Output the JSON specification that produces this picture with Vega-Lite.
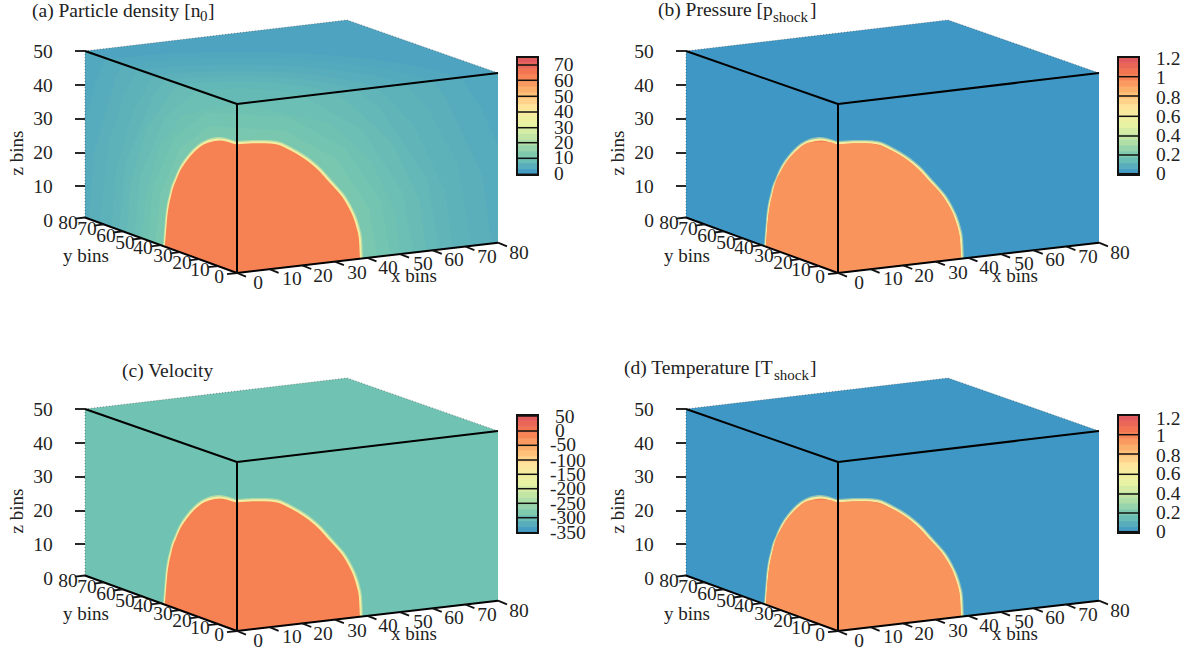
{"$schema":"https://vega.github.io/schema/vega-lite/v6.json","padding":0,"autosize":{"type":"pad"},"background":"white","config":{"view":{"stroke":null},"text":{"font":"Liberation Serif","color":"#222"}},"datasets":{"main":[
{"p":"a","s":"base","c":0.06,"x":85,"y":50,"y2":216.5},{"p":"a","s":"base","c":0.06,"x":237,"y":103,"y2":272},{"p":"a","s":"base","c":0.06,"x":498,"y":72,"y2":241.7},
{"p":"a","s":"top","c":0.045,"x":85,"y":50,"y2":50},{"p":"a","s":"top","c":0.045,"x":237,"y":32,"y2":103},{"p":"a","s":"top","c":0.045,"x":347,"y":19,"y2":89.9},{"p":"a","s":"top","c":0.045,"x":498,"y":72,"y2":72},
{"p":"a","s":"t85","c":0.055,"x":106.5,"y":57.7,"y2":57.7},{"p":"a","s":"t85","c":0.055,"x":168.9,"y":52.2,"y2":79.4},{"p":"a","s":"t85","c":0.055,"x":237,"y":50.4,"y2":103},{"p":"a","s":"t85","c":0.055,"x":303,"y":52,"y2":95.1},{"p":"a","s":"t85","c":0.055,"x":365.7,"y":57.1,"y2":87.6},{"p":"a","s":"t85","c":0.055,"x":419.5,"y":65.4,"y2":81.2},{"p":"a","s":"t85","c":0.055,"x":461,"y":76.2,"y2":76.2},
{"p":"a","s":"t78","c":0.065,"x":123.2,"y":63.5,"y2":63.5},{"p":"a","s":"t78","c":0.065,"x":177.6,"y":58.7,"y2":82.4},{"p":"a","s":"t78","c":0.065,"x":237,"y":57.1,"y2":103},{"p":"a","s":"t78","c":0.065,"x":294.6,"y":58.5,"y2":96.1},{"p":"a","s":"t78","c":0.065,"x":349.2,"y":63,"y2":89.6},{"p":"a","s":"t78","c":0.065,"x":396.2,"y":70.2,"y2":84},{"p":"a","s":"t78","c":0.065,"x":432.3,"y":79.6,"y2":79.6},
{"p":"a","s":"t72","c":0.075,"x":138.6,"y":68.8,"y2":68.8},{"p":"a","s":"t72","c":0.075,"x":185.7,"y":64.7,"y2":85.2},{"p":"a","s":"t72","c":0.075,"x":237,"y":63.3,"y2":103},{"p":"a","s":"t72","c":0.075,"x":286.8,"y":64.5,"y2":97},{"p":"a","s":"t72","c":0.075,"x":334,"y":68.4,"y2":91.4},{"p":"a","s":"t72","c":0.075,"x":374.6,"y":74.6,"y2":86.6},{"p":"a","s":"t72","c":0.075,"x":405.9,"y":82.8,"y2":82.8},
{"p":"a","s":"t66","c":0.085,"x":155.1,"y":74.6,"y2":74.6},{"p":"a","s":"t66","c":0.085,"x":194.3,"y":71.1,"y2":88.2},{"p":"a","s":"t66","c":0.085,"x":237,"y":70,"y2":103},{"p":"a","s":"t66","c":0.085,"x":278.4,"y":71,"y2":98},{"p":"a","s":"t66","c":0.085,"x":317.7,"y":74.2,"y2":93.3},{"p":"a","s":"t66","c":0.085,"x":351.5,"y":79.4,"y2":89.3},{"p":"a","s":"t66","c":0.085,"x":377.5,"y":86.2,"y2":86.2},
{"p":"a","s":"t62","c":0.095,"x":167.3,"y":78.8,"y2":78.8},{"p":"a","s":"t62","c":0.095,"x":200.6,"y":75.9,"y2":90.4},{"p":"a","s":"t62","c":0.095,"x":237,"y":74.9,"y2":103},{"p":"a","s":"t62","c":0.095,"x":272.3,"y":75.7,"y2":98.8},{"p":"a","s":"t62","c":0.095,"x":305.7,"y":78.5,"y2":94.8},{"p":"a","s":"t62","c":0.095,"x":334.5,"y":82.9,"y2":91.3},{"p":"a","s":"t62","c":0.095,"x":356.6,"y":88.7,"y2":88.7},
{"p":"a","s":"t58","c":0.105,"x":181.1,"y":83.6,"y2":83.6},{"p":"a","s":"t58","c":0.105,"x":207.9,"y":81.3,"y2":92.9},{"p":"a","s":"t58","c":0.105,"x":237,"y":80.5,"y2":103},{"p":"a","s":"t58","c":0.105,"x":265.3,"y":81.2,"y2":99.6},{"p":"a","s":"t58","c":0.105,"x":292.1,"y":83.4,"y2":96.4},{"p":"a","s":"t58","c":0.105,"x":315.1,"y":86.9,"y2":93.7},{"p":"a","s":"t58","c":0.105,"x":332.8,"y":91.5,"y2":91.5},
{"p":"a","s":"t54","c":0.115,"x":198.2,"y":89.5,"y2":89.5},{"p":"a","s":"t54","c":0.115,"x":216.8,"y":87.9,"y2":96},{"p":"a","s":"t54","c":0.115,"x":237,"y":87.4,"y2":103},{"p":"a","s":"t54","c":0.115,"x":256.6,"y":87.8,"y2":100.7},{"p":"a","s":"t54","c":0.115,"x":275.2,"y":89.4,"y2":98.4},{"p":"a","s":"t54","c":0.115,"x":291.2,"y":91.8,"y2":96.5},{"p":"a","s":"t54","c":0.115,"x":303.5,"y":95,"y2":95},
{"p":"a","s":"r85","c":0.07,"x":85,"y":119.5,"y2":216.5},{"p":"a","s":"r85","c":0.07,"x":94.5,"y":84.8,"y2":220},{"p":"a","s":"r85","c":0.07,"x":106.5,"y":55.3,"y2":224.3},{"p":"a","s":"r85","c":0.07,"x":237,"y":103,"y2":272},{"p":"a","s":"r85","c":0.07,"x":461.1,"y":77,"y2":246},{"p":"a","s":"r85","c":0.07,"x":481.7,"y":108.4,"y2":243.6},{"p":"a","s":"r85","c":0.07,"x":498,"y":144.7,"y2":241.7},
{"p":"a","s":"r78","c":0.08,"x":88.8,"y":217.9,"y2":217.9},{"p":"a","s":"r78","c":0.08,"x":93.9,"y":151.5,"y2":219.7},{"p":"a","s":"r78","c":0.08,"x":115.6,"y":76.4,"y2":227.7},{"p":"a","s":"r78","c":0.08,"x":123.2,"y":61.4,"y2":230.4},{"p":"a","s":"r78","c":0.08,"x":237,"y":103,"y2":272},{"p":"a","s":"r78","c":0.08,"x":432.4,"y":80.3,"y2":249.3},{"p":"a","s":"r78","c":0.08,"x":445.4,"y":96.5,"y2":247.8},{"p":"a","s":"r78","c":0.08,"x":482.8,"y":175.2,"y2":243.5},{"p":"a","s":"r78","c":0.08,"x":491.5,"y":242.4,"y2":242.4},
{"p":"a","s":"r72","c":0.09,"x":100.2,"y":222,"y2":222},{"p":"a","s":"r72","c":0.09,"x":108.4,"y":141.8,"y2":225.1},{"p":"a","s":"r72","c":0.09,"x":124.9,"y":91.5,"y2":231.1},{"p":"a","s":"r72","c":0.09,"x":138.6,"y":67,"y2":236},{"p":"a","s":"r72","c":0.09,"x":237,"y":103,"y2":272},{"p":"a","s":"r72","c":0.09,"x":406,"y":83.4,"y2":252.4},{"p":"a","s":"r72","c":0.09,"x":429.5,"y":110,"y2":249.6},{"p":"a","s":"r72","c":0.09,"x":457.8,"y":163.1,"y2":246.4},{"p":"a","s":"r72","c":0.09,"x":471.9,"y":244.7,"y2":244.7},
{"p":"a","s":"r66","c":0.1,"x":111.6,"y":226.2,"y2":226.2},{"p":"a","s":"r66","c":0.1,"x":115.9,"y":170,"y2":227.8},{"p":"a","s":"r66","c":0.1,"x":134.3,"y":106.5,"y2":234.5},{"p":"a","s":"r66","c":0.1,"x":155.1,"y":73.1,"y2":242.1},{"p":"a","s":"r66","c":0.1,"x":237,"y":103,"y2":272},{"p":"a","s":"r66","c":0.1,"x":377.6,"y":86.7,"y2":255.7},{"p":"a","s":"r66","c":0.1,"x":413.4,"y":123.5,"y2":251.5},{"p":"a","s":"r66","c":0.1,"x":445,"y":190.1,"y2":247.8},{"p":"a","s":"r66","c":0.1,"x":452.3,"y":247,"y2":247},
{"p":"a","s":"r62","c":0.11,"x":119.2,"y":229,"y2":229},{"p":"a","s":"r62","c":0.11,"x":126.3,"y":159.9,"y2":231.6},{"p":"a","s":"r62","c":0.11,"x":153.7,"y":93.4,"y2":241.6},{"p":"a","s":"r62","c":0.11,"x":167.3,"y":77.5,"y2":246.5},{"p":"a","s":"r62","c":0.11,"x":237,"y":103,"y2":272},{"p":"a","s":"r62","c":0.11,"x":356.7,"y":89.1,"y2":258.1},{"p":"a","s":"r62","c":0.11,"x":380,"y":107.2,"y2":255.4},{"p":"a","s":"r62","c":0.11,"x":427.2,"y":178.3,"y2":249.9},{"p":"a","s":"r62","c":0.11,"x":439.3,"y":248.5,"y2":248.5},
{"p":"a","s":"r58","c":0.12,"x":126.8,"y":231.7,"y2":231.7},{"p":"a","s":"r58","c":0.12,"x":130.6,"y":182.4,"y2":233.1},{"p":"a","s":"r58","c":0.12,"x":146.8,"y":126.5,"y2":239.1},{"p":"a","s":"r58","c":0.12,"x":173.7,"y":88.4,"y2":248.9},{"p":"a","s":"r58","c":0.12,"x":181.1,"y":82.6,"y2":251.6},{"p":"a","s":"r58","c":0.12,"x":237,"y":103,"y2":272},{"p":"a","s":"r58","c":0.12,"x":332.9,"y":91.9,"y2":260.9},{"p":"a","s":"r58","c":0.12,"x":345.6,"y":98.8,"y2":259.4},{"p":"a","s":"r58","c":0.12,"x":392,"y":141.5,"y2":254},{"p":"a","s":"r58","c":0.12,"x":419.8,"y":200,"y2":250.8},{"p":"a","s":"r58","c":0.12,"x":426.2,"y":250,"y2":250},
{"p":"a","s":"r54","c":0.13,"x":134.4,"y":234.5,"y2":234.5},{"p":"a","s":"r54","c":0.13,"x":140.6,"y":174.4,"y2":236.8},{"p":"a","s":"r54","c":0.13,"x":164.5,"y":116.4,"y2":245.5},{"p":"a","s":"r54","c":0.13,"x":198.2,"y":88.8,"y2":257.8},{"p":"a","s":"r54","c":0.13,"x":237,"y":103,"y2":272},{"p":"a","s":"r54","c":0.13,"x":303.6,"y":95.3,"y2":264.3},{"p":"a","s":"r54","c":0.13,"x":361.6,"y":128.5,"y2":257.5},{"p":"a","s":"r54","c":0.13,"x":402.6,"y":190.4,"y2":252.8},{"p":"a","s":"r54","c":0.13,"x":413.2,"y":251.5,"y2":251.5},
{"p":"a","s":"r50","c":0.14,"x":142,"y":237.3,"y2":237.3},{"p":"a","s":"r50","c":0.14,"x":145.3,"y":194.8,"y2":238.5},{"p":"a","s":"r50","c":0.14,"x":159.2,"y":146.6,"y2":243.6},{"p":"a","s":"r50","c":0.14,"x":182.5,"y":113.7,"y2":252.1},{"p":"a","s":"r50","c":0.14,"x":237,"y":103,"y2":272},{"p":"a","s":"r50","c":0.14,"x":330.7,"y":122.7,"y2":261.1},{"p":"a","s":"r50","c":0.14,"x":370.6,"y":159.5,"y2":256.5},{"p":"a","s":"r50","c":0.14,"x":394.6,"y":210,"y2":253.7},{"p":"a","s":"r50","c":0.14,"x":400.1,"y":253.1,"y2":253.1},
{"p":"a","s":"r47","c":0.15,"x":147.7,"y":239.4,"y2":239.4},{"p":"a","s":"r47","c":0.15,"x":153,"y":186.9,"y2":241.3},{"p":"a","s":"r47","c":0.15,"x":173.9,"y":136.8,"y2":249},{"p":"a","s":"r47","c":0.15,"x":206.4,"y":111.4,"y2":260.8},{"p":"a","s":"r47","c":0.15,"x":237,"y":113.1,"y2":272},{"p":"a","s":"r47","c":0.15,"x":289.5,"y":116.5,"y2":265.9},{"p":"a","s":"r47","c":0.15,"x":345.3,"y":147.2,"y2":259.4},{"p":"a","s":"r47","c":0.15,"x":381.2,"y":200.8,"y2":255.2},{"p":"a","s":"r47","c":0.15,"x":390.3,"y":254.2,"y2":254.2},
{"p":"a","s":"r43","c":0.165,"x":155.3,"y":242.2,"y2":242.2},{"p":"a","s":"r43","c":0.165,"x":160.2,"y":194.3,"y2":244},{"p":"a","s":"r43","c":0.165,"x":179.3,"y":148.1,"y2":250.9},{"p":"a","s":"r43","c":0.165,"x":209,"y":125.2,"y2":261.8},{"p":"a","s":"r43","c":0.165,"x":237,"y":126.7,"y2":272},{"p":"a","s":"r43","c":0.165,"x":285,"y":129.8,"y2":266.4},{"p":"a","s":"r43","c":0.165,"x":336.2,"y":157.7,"y2":260.5},{"p":"a","s":"r43","c":0.165,"x":368.9,"y":207,"y2":256.7},{"p":"a","s":"r43","c":0.165,"x":377.3,"y":255.7,"y2":255.7},
{"p":"b","s":"base","c":0.006,"x":85,"y":50,"y2":216.5},{"p":"b","s":"base","c":0.006,"x":237,"y":103,"y2":272},{"p":"b","s":"base","c":0.006,"x":498,"y":72,"y2":241.7},
{"p":"b","s":"top","c":0.006,"x":85,"y":50,"y2":50},{"p":"b","s":"top","c":0.006,"x":237,"y":32,"y2":103},{"p":"b","s":"top","c":0.006,"x":347,"y":19,"y2":89.9},{"p":"b","s":"top","c":0.006,"x":498,"y":72,"y2":72},
{"p":"c","s":"base","c":0.143,"x":85,"y":50,"y2":216.5},{"p":"c","s":"base","c":0.143,"x":237,"y":103,"y2":272},{"p":"c","s":"base","c":0.143,"x":498,"y":72,"y2":241.7},
{"p":"c","s":"top","c":0.143,"x":85,"y":50,"y2":50},{"p":"c","s":"top","c":0.143,"x":237,"y":32,"y2":103},{"p":"c","s":"top","c":0.143,"x":347,"y":19,"y2":89.9},{"p":"c","s":"top","c":0.143,"x":498,"y":72,"y2":72},
{"p":"d","s":"base","c":0.006,"x":85,"y":50,"y2":216.5},{"p":"d","s":"base","c":0.006,"x":237,"y":103,"y2":272},{"p":"d","s":"base","c":0.006,"x":498,"y":72,"y2":241.7},
{"p":"d","s":"top","c":0.006,"x":85,"y":50,"y2":50},{"p":"d","s":"top","c":0.006,"x":237,"y":32,"y2":103},{"p":"d","s":"top","c":0.006,"x":347,"y":19,"y2":89.9},{"p":"d","s":"top","c":0.006,"x":498,"y":72,"y2":72},
{"p":"b","k":"tint","c":0.79,"x":165,"y":245.5,"y2":245.5},{"p":"b","k":"tint","c":0.79,"x":165.8,"y":233,"y2":245.8},{"p":"b","k":"tint","c":0.79,"x":171.7,"y":192.1,"y2":248},{"p":"b","k":"tint","c":0.79,"x":181.4,"y":167.6,"y2":251.5},{"p":"b","k":"tint","c":0.79,"x":194.1,"y":151.1,"y2":256.2},{"p":"b","k":"tint","c":0.79,"x":208.7,"y":141.4,"y2":261.6},{"p":"b","k":"tint","c":0.79,"x":228.2,"y":140.9,"y2":268.8},{"p":"b","k":"tint","c":0.79,"x":237,"y":143.3,"y2":272},{"p":"b","k":"tint","c":0.79,"x":264.3,"y":142.3,"y2":268.9},{"p":"b","k":"tint","c":0.79,"x":291.6,"y":150.1,"y2":265.7},{"p":"b","k":"tint","c":0.79,"x":311.1,"y":162.8,"y2":263.5},{"p":"b","k":"tint","c":0.79,"x":327.7,"y":179.4,"y2":261.6},{"p":"b","k":"tint","c":0.79,"x":344.3,"y":198.9,"y2":259.7},{"p":"b","k":"tint","c":0.79,"x":354,"y":218.3,"y2":258.5},{"p":"b","k":"tint","c":0.79,"x":358.9,"y":237.9,"y2":258},{"p":"b","k":"tint","c":0.79,"x":359.9,"y":257.9,"y2":257.9},
{"p":"d","k":"tint","c":0.79,"x":165,"y":245.5,"y2":245.5},{"p":"d","k":"tint","c":0.79,"x":165.8,"y":233,"y2":245.8},{"p":"d","k":"tint","c":0.79,"x":171.7,"y":192.1,"y2":248},{"p":"d","k":"tint","c":0.79,"x":181.4,"y":167.6,"y2":251.5},{"p":"d","k":"tint","c":0.79,"x":194.1,"y":151.1,"y2":256.2},{"p":"d","k":"tint","c":0.79,"x":208.7,"y":141.4,"y2":261.6},{"p":"d","k":"tint","c":0.79,"x":228.2,"y":140.9,"y2":268.8},{"p":"d","k":"tint","c":0.79,"x":237,"y":143.3,"y2":272},{"p":"d","k":"tint","c":0.79,"x":264.3,"y":142.3,"y2":268.9},{"p":"d","k":"tint","c":0.79,"x":291.6,"y":150.1,"y2":265.7},{"p":"d","k":"tint","c":0.79,"x":311.1,"y":162.8,"y2":263.5},{"p":"d","k":"tint","c":0.79,"x":327.7,"y":179.4,"y2":261.6},{"p":"d","k":"tint","c":0.79,"x":344.3,"y":198.9,"y2":259.7},{"p":"d","k":"tint","c":0.79,"x":354,"y":218.3,"y2":258.5},{"p":"d","k":"tint","c":0.79,"x":358.9,"y":237.9,"y2":258},{"p":"d","k":"tint","c":0.79,"x":359.9,"y":257.9,"y2":257.9},
{"p":"a","k":"cb","t":"70","x":554,"y":64,"ly":64},{"p":"a","k":"cb","t":"60","x":554,"y":80,"ly":79.3},{"p":"a","k":"cb","t":"50","x":554,"y":96,"ly":95.3},{"p":"a","k":"cb","t":"40","x":554,"y":111,"ly":111},{"p":"a","k":"cb","t":"30","x":554,"y":127,"ly":126.7},{"p":"a","k":"cb","t":"20","x":554,"y":142,"ly":141.7},{"p":"a","k":"cb","t":"10","x":554,"y":157,"ly":157.3},{"p":"a","k":"cb","t":"0","x":554,"y":173,"ly":173.3},
{"p":"b","k":"cb","t":"1.2","x":555,"y":58,"ly":56},{"p":"b","k":"cb","t":"1","x":555,"y":77,"ly":75.7},{"p":"b","k":"cb","t":"0.8","x":555,"y":97,"ly":95},{"p":"b","k":"cb","t":"0.6","x":555,"y":116,"ly":115.3},{"p":"b","k":"cb","t":"0.4","x":555,"y":135,"ly":135},{"p":"b","k":"cb","t":"0.2","x":555,"y":154,"ly":154},{"p":"b","k":"cb","t":"0","x":555,"y":173,"ly":172.7},
{"p":"c","k":"cb","t":"50","x":555,"y":58,"ly":57},{"p":"c","k":"cb","t":"0","x":555,"y":72,"ly":72},{"p":"c","k":"cb","t":"-50","x":550,"y":86,"ly":86.3},{"p":"c","k":"cb","t":"-100","x":550,"y":102,"ly":101},{"p":"c","k":"cb","t":"-150","x":550,"y":116,"ly":115.3},{"p":"c","k":"cb","t":"-200","x":550,"y":130,"ly":129.7},{"p":"c","k":"cb","t":"-250","x":550,"y":145,"ly":144.3},{"p":"c","k":"cb","t":"-300","x":550,"y":159,"ly":158.7},{"p":"c","k":"cb","t":"-350","x":550,"y":174,"ly":173.7},
{"p":"d","k":"cb","t":"1.2","x":555,"y":60,"ly":56},{"p":"d","k":"cb","t":"1","x":555,"y":77,"ly":75.7},{"p":"d","k":"cb","t":"0.8","x":555,"y":97,"ly":95},{"p":"d","k":"cb","t":"0.6","x":555,"y":115,"ly":115.3},{"p":"d","k":"cb","t":"0.4","x":555,"y":135,"ly":135},{"p":"d","k":"cb","t":"0.2","x":555,"y":154,"ly":154},{"p":"d","k":"cb","t":"0","x":555,"y":173,"ly":172.7},
{"p":"a","k":"t","t":"(a) Particle density [n","x":32,"y":16},{"p":"a","k":"t","t":"]","x":208,"y":16},{"p":"a","k":"u","t":"0","x":200,"y":20},
{"p":"b","k":"t","t":"(b) Pressure [p","x":57,"y":15},{"p":"b","k":"t","t":"]","x":209,"y":15},{"p":"b","k":"u","t":"shock","x":172,"y":21},
{"p":"c","k":"t","t":"(c) Velocity","x":122,"y":18},
{"p":"d","k":"t","t":"(d) Temperature [T","x":23,"y":15},{"p":"d","k":"t","t":"]","x":209,"y":15},{"p":"d","k":"u","t":"shock","x":173,"y":21}
],"dome":[
{"r":"o","c":0.45,"x":163,"y":245,"y2":244.8},{"r":"o","c":0.45,"x":164,"y":232,"y2":245.1},{"r":"o","c":0.45,"x":165,"y":220,"y2":245.5},{"r":"o","c":0.45,"x":170,"y":190,"y2":247.3},{"r":"o","c":0.45,"x":175,"y":176,"y2":249.2},{"r":"o","c":0.45,"x":180,"y":165,"y2":251},{"r":"o","c":0.45,"x":186,"y":156,"y2":253.2},{"r":"o","c":0.45,"x":193,"y":148,"y2":255.8},{"r":"o","c":0.45,"x":200,"y":142,"y2":258.4},{"r":"o","c":0.45,"x":208,"y":138,"y2":261.3},{"r":"o","c":0.45,"x":220,"y":136,"y2":265.7},{"r":"o","c":0.45,"x":228,"y":137.5,"y2":268.7},{"r":"o","c":0.45,"x":237,"y":140,"y2":272},{"r":"o","c":0.45,"x":253,"y":139,"y2":270.2},{"r":"o","c":0.45,"x":265,"y":139,"y2":268.8},{"r":"o","c":0.45,"x":277,"y":140,"y2":267.4},{"r":"o","c":0.45,"x":293,"y":147,"y2":265.6},{"r":"o","c":0.45,"x":305,"y":154,"y2":264.2},{"r":"o","c":0.45,"x":313,"y":160,"y2":263.3},{"r":"o","c":0.45,"x":322,"y":168,"y2":262.2},{"r":"o","c":0.45,"x":330,"y":177,"y2":261.3},{"r":"o","c":0.45,"x":339,"y":187,"y2":260.3},{"r":"o","c":0.45,"x":347,"y":197,"y2":259.4},{"r":"o","c":0.45,"x":352,"y":206,"y2":258.8},{"r":"o","c":0.45,"x":357,"y":217,"y2":258.2},{"r":"o","c":0.45,"x":360,"y":227,"y2":257.9},{"r":"o","c":0.45,"x":362,"y":237,"y2":257.6},{"r":"o","c":0.45,"x":363,"y":257.5,"y2":257.5},
{"r":"m","c":0.5,"x":163.7,"y":245,"y2":245},{"r":"m","c":0.5,"x":164.7,"y":232.4,"y2":245.4},{"r":"m","c":0.5,"x":165.7,"y":220.6,"y2":245.8},{"r":"m","c":0.5,"x":170.7,"y":190.9,"y2":247.6},{"r":"m","c":0.5,"x":175.6,"y":176.9,"y2":249.4},{"r":"m","c":0.5,"x":180.6,"y":166.1,"y2":251.2},{"r":"m","c":0.5,"x":186.5,"y":157.2,"y2":253.4},{"r":"m","c":0.5,"x":193.4,"y":149.3,"y2":256},{"r":"m","c":0.5,"x":200.4,"y":143.3,"y2":258.5},{"r":"m","c":0.5,"x":208.3,"y":139.3,"y2":261.4},{"r":"m","c":0.5,"x":220.2,"y":137.4,"y2":265.8},{"r":"m","c":0.5,"x":228.1,"y":138.8,"y2":268.7},{"r":"m","c":0.5,"x":237,"y":141.3,"y2":272},{"r":"m","c":0.5,"x":252.8,"y":140.3,"y2":270.2},{"r":"m","c":0.5,"x":264.7,"y":140.3,"y2":268.8},{"r":"m","c":0.5,"x":276.6,"y":141.3,"y2":267.4},{"r":"m","c":0.5,"x":292.4,"y":148.2,"y2":265.6},{"r":"m","c":0.5,"x":304.3,"y":155.2,"y2":264.3},{"r":"m","c":0.5,"x":312.2,"y":161.1,"y2":263.4},{"r":"m","c":0.5,"x":321.2,"y":169,"y2":262.3},{"r":"m","c":0.5,"x":329.1,"y":177.9,"y2":261.4},{"r":"m","c":0.5,"x":338,"y":187.8,"y2":260.4},{"r":"m","c":0.5,"x":345.9,"y":197.7,"y2":259.5},{"r":"m","c":0.5,"x":350.9,"y":206.6,"y2":258.9},{"r":"m","c":0.5,"x":355.8,"y":217.5,"y2":258.3},{"r":"m","c":0.5,"x":358.8,"y":227.4,"y2":258},{"r":"m","c":0.5,"x":360.8,"y":237.4,"y2":257.8},{"r":"m","c":0.5,"x":361.7,"y":257.7,"y2":257.7},
{"r":"z","c":0.835,"x":164.8,"y":245.4,"y2":245.4},{"r":"z","c":0.835,"x":165.8,"y":233,"y2":245.8},{"r":"z","c":0.835,"x":166.8,"y":221.3,"y2":246.2},{"r":"z","c":0.835,"x":171.7,"y":192.1,"y2":248},{"r":"z","c":0.835,"x":176.5,"y":178.3,"y2":249.7},{"r":"z","c":0.835,"x":181.4,"y":167.6,"y2":251.5},{"r":"z","c":0.835,"x":187.3,"y":158.9,"y2":253.7},{"r":"z","c":0.835,"x":194.1,"y":151.1,"y2":256.2},{"r":"z","c":0.835,"x":200.9,"y":145.2,"y2":258.7},{"r":"z","c":0.835,"x":208.7,"y":141.4,"y2":261.6},{"r":"z","c":0.835,"x":220.4,"y":139.4,"y2":265.9},{"r":"z","c":0.835,"x":228.2,"y":140.9,"y2":268.8},{"r":"z","c":0.835,"x":237,"y":143.3,"y2":272},{"r":"z","c":0.835,"x":252.6,"y":142.3,"y2":270.2},{"r":"z","c":0.835,"x":264.3,"y":142.3,"y2":268.9},{"r":"z","c":0.835,"x":276,"y":143.3,"y2":267.5},{"r":"z","c":0.835,"x":291.6,"y":150.1,"y2":265.7},{"r":"z","c":0.835,"x":303.3,"y":157,"y2":264.4},{"r":"z","c":0.835,"x":311.1,"y":162.8,"y2":263.5},{"r":"z","c":0.835,"x":319.9,"y":170.7,"y2":262.5},{"r":"z","c":0.835,"x":327.7,"y":179.4,"y2":261.6},{"r":"z","c":0.835,"x":336.5,"y":189.1,"y2":260.6},{"r":"z","c":0.835,"x":344.3,"y":198.9,"y2":259.7},{"r":"z","c":0.835,"x":349.1,"y":207.6,"y2":259.1},{"r":"z","c":0.835,"x":354,"y":218.3,"y2":258.5},{"r":"z","c":0.835,"x":356.9,"y":228.1,"y2":258.2},{"r":"z","c":0.835,"x":358.9,"y":237.9,"y2":258},{"r":"z","c":0.835,"x":359.9,"y":257.9,"y2":257.9}
],"thin":[{"x":85,"y":50,"x2":85,"y2":216.5},{"x":85,"y":50,"x2":347,"y2":19},{"x":347,"y":19,"x2":498,"y2":72}],
"frame":[{"x":85,"y":50,"x2":237,"y2":103},{"x":237,"y":103,"x2":498,"y2":72},{"x":237,"y":103,"x2":237,"y2":272},{"x":237,"y":272,"x2":85,"y2":216.5},{"x":237,"y":272,"x2":498,"y2":241.7}],
"ticks":[{"x":75,"y":50,"x2":85,"y2":50},{"x":75,"y":84,"x2":85,"y2":84},{"x":75,"y":118,"x2":85,"y2":118},{"x":75,"y":152,"x2":85,"y2":152},{"x":75,"y":185,"x2":85,"y2":185},
{"x":237,"y":272,"x2":227,"y2":273.2},{"x":218,"y":265.1,"x2":208,"y2":266.2},{"x":199,"y":258.1,"x2":189,"y2":259.3},{"x":180,"y":251.2,"x2":170,"y2":252.3},{"x":161,"y":244.2,"x2":151,"y2":245.4},{"x":142,"y":237.3,"x2":132,"y2":238.5},{"x":123,"y":230.4,"x2":113,"y2":231.5},{"x":104,"y":223.4,"x2":94,"y2":224.6},{"x":85,"y":216.5,"x2":75,"y2":217.7},
{"x":237,"y":272,"x2":246,"y2":275.6},{"x":269.6,"y":268.2,"x2":278.6,"y2":271.8},{"x":302.3,"y":264.4,"x2":311.3,"y2":268},{"x":334.9,"y":260.6,"x2":343.9,"y2":264.2},{"x":367.5,"y":256.8,"x2":376.5,"y2":260.4},{"x":400.1,"y":253.1,"x2":409.1,"y2":256.7},{"x":432.8,"y":249.3,"x2":441.8,"y2":252.9},{"x":465.4,"y":245.5,"x2":474.4,"y2":249.1},{"x":498,"y":241.7,"x2":507,"y2":245.3}],
"labels":[{"t":"50","x":43,"y":51},{"t":"40","x":43,"y":85},{"t":"30","x":43,"y":118},{"t":"20","x":43,"y":152},{"t":"10","x":43,"y":186},{"t":"0","x":48,"y":220},
{"t":"0","x":219,"y":276},{"t":"10","x":200,"y":269},{"t":"20","x":182,"y":262},{"t":"30","x":163,"y":255},{"t":"40","x":143,"y":247},{"t":"50","x":125,"y":242},{"t":"60","x":106,"y":235},{"t":"70","x":87,"y":228},{"t":"80","x":68,"y":222},
{"t":"0","x":258,"y":282},{"t":"10","x":292,"y":278},{"t":"20","x":323,"y":275},{"t":"30","x":357,"y":272},{"t":"40","x":388,"y":267},{"t":"50","x":423,"y":263},{"t":"60","x":454,"y":259},{"t":"70","x":487,"y":256},{"t":"80","x":519,"y":252}],
"titles":[{"t":"y bins","x":86,"y":255},{"t":"x bins","x":414,"y":275}],
"ztitle":[{"t":"z bins","x":17,"y":152}],
"bar":[{"x":517,"x2":538,"y":167.6,"y2":174,"c":0.025},{"x":517,"x2":538,"y":161.7,"y2":168.1,"c":0.075},{"x":517,"x2":538,"y":155.8,"y2":162.2,"c":0.125},{"x":517,"x2":538,"y":149.9,"y2":156.3,"c":0.175},{"x":517,"x2":538,"y":144,"y2":150.4,"c":0.225},{"x":517,"x2":538,"y":138.1,"y2":144.5,"c":0.275},{"x":517,"x2":538,"y":132.2,"y2":138.6,"c":0.325},{"x":517,"x2":538,"y":126.3,"y2":132.7,"c":0.375},{"x":517,"x2":538,"y":120.4,"y2":126.8,"c":0.425},{"x":517,"x2":538,"y":114.5,"y2":120.9,"c":0.475},{"x":517,"x2":538,"y":108.6,"y2":115,"c":0.525},{"x":517,"x2":538,"y":102.7,"y2":109.1,"c":0.575},{"x":517,"x2":538,"y":96.8,"y2":103.2,"c":0.625},{"x":517,"x2":538,"y":90.9,"y2":97.3,"c":0.675},{"x":517,"x2":538,"y":85,"y2":91.4,"c":0.725},{"x":517,"x2":538,"y":79.1,"y2":85.5,"c":0.775},{"x":517,"x2":538,"y":73.2,"y2":79.6,"c":0.825},{"x":517,"x2":538,"y":67.3,"y2":73.7,"c":0.875},{"x":517,"x2":538,"y":61.4,"y2":67.8,"c":0.925},{"x":517,"x2":538,"y":56,"y2":61.9,"c":0.975}],
"box":[{"x":517,"x2":538,"y":56,"y2":174}]
},"data":{"name":"main"},"facet":{"field":"p","type":"nominal","header":{"title":null,"labelExpr":"''","labelFontSize":0,"labelPadding":0,"titlePadding":0,"labelColor":"transparent"}},"columns":2,"spacing":{"row":60,"column":11},"bounds":"flush","spec":{"width":590,"height":298,"encoding":{"x":{"field":"x","type":"quantitative","axis":null,"scale":{"domain":[0,590],"nice":false,"zero":false}},"y":{"field":"y","type":"quantitative","axis":null,"scale":{"domain":[300,2],"nice":false,"zero":false}}},"layer":[
{"transform":[{"filter":"isValid(datum.s)"}],"mark":{"type":"area","orient":"vertical","interpolate":"linear"},"encoding":{"y2":{"field":"y2"},"detail":{"field":"s"},"color":{"field":"c","type":"quantitative","legend":null,"scale":{"interpolate":"rgb","domain":[0,0.143,0.286,0.429,0.571,0.714,0.857,1],"range":["#3d95c6","#70c3b2","#b4e0a6","#e8f4a2","#ffe59c","#fdb46c","#f5784f","#dd5560"]}}}},
{"data":{"name":"dome"},"transform":[{"filter":"datum.r=='o'"}],"mark":{"type":"area","orient":"vertical","interpolate":"monotone","opacity":0.5},"encoding":{"y2":{"field":"y2"},"color":{"field":"c","type":"quantitative","legend":null}}},
{"data":{"name":"dome"},"transform":[{"filter":"datum.r!='o'"}],"mark":{"type":"area","orient":"vertical","interpolate":"monotone"},"encoding":{"y2":{"field":"y2"},"detail":{"field":"r"},"color":{"field":"c","type":"quantitative","legend":null}}},
{"transform":[{"filter":"datum.k=='tint'"}],"mark":{"type":"area","orient":"vertical","interpolate":"monotone"},"encoding":{"y2":{"field":"y2"},"color":{"field":"c","type":"quantitative","legend":null}}},
{"data":{"name":"thin"},"mark":{"type":"rule","color":"#333","strokeWidth":0.5,"strokeDash":[1,2]},"encoding":{"x2":{"field":"x2"},"y2":{"field":"y2"}}},
{"data":{"name":"frame"},"mark":{"type":"rule","color":"#000","strokeWidth":2},"encoding":{"x2":{"field":"x2"},"y2":{"field":"y2"}}},
{"data":{"name":"ticks"},"mark":{"type":"rule","color":"#111","strokeWidth":1.8},"encoding":{"x2":{"field":"x2"},"y2":{"field":"y2"}}},
{"data":{"name":"bar"},"mark":{"type":"rect"},"encoding":{"x2":{"field":"x2"},"y2":{"field":"y2"},"color":{"field":"c","type":"quantitative","legend":null}}},
{"transform":[{"filter":"isValid(datum.ly)"}],"mark":{"type":"rule","color":"#111","strokeWidth":1.5},"encoding":{"x":{"datum":517,"type":"quantitative"},"x2":{"datum":538},"y":{"field":"ly","type":"quantitative"}}},
{"data":{"name":"box"},"mark":{"type":"rect","filled":false,"stroke":"#111","strokeWidth":2},"encoding":{"x2":{"field":"x2"},"y2":{"field":"y2"}}},
{"transform":[{"filter":"datum.k=='cb'"}],"mark":{"type":"text","align":"left","baseline":"middle","fontSize":19.5,"font":"Liberation Serif"},"encoding":{"text":{"field":"t"}}},
{"transform":[{"filter":"datum.k=='t'"}],"mark":{"type":"text","align":"left","baseline":"alphabetic","fontSize":19.5,"font":"Liberation Serif"},"encoding":{"text":{"field":"t"}}},
{"transform":[{"filter":"datum.k=='u'"}],"mark":{"type":"text","align":"left","baseline":"alphabetic","fontSize":15,"font":"Liberation Serif"},"encoding":{"text":{"field":"t"}}},
{"data":{"name":"labels"},"mark":{"type":"text","align":"center","baseline":"middle","fontSize":19.5,"font":"Liberation Serif"},"encoding":{"text":{"field":"t"}}},
{"data":{"name":"titles"},"mark":{"type":"text","align":"center","baseline":"middle","fontSize":19,"font":"Liberation Serif"},"encoding":{"text":{"field":"t"}}},
{"data":{"name":"ztitle"},"mark":{"type":"text","align":"center","baseline":"middle","fontSize":19,"angle":270,"font":"Liberation Serif"},"encoding":{"text":{"field":"t"}}}
]}}
